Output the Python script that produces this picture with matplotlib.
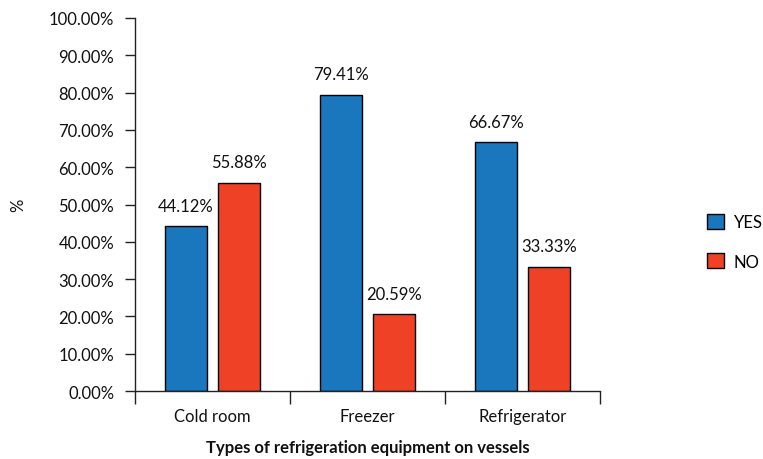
import matplotlib
matplotlib.use("Agg")
import matplotlib.pyplot as plt
import numpy as np
from matplotlib.ticker import FuncFormatter, FixedLocator, NullFormatter

plt.rcParams['font.family'] = ['Lato', 'DejaVu Sans']

categories = ["Cold room", "Freezer", "Refrigerator"]
yes_values = [44.12, 79.41, 66.67]
no_values = [55.88, 20.59, 33.33]
series_names = ["YES", "NO"]

blue = "#1a76bd"
red = "#ee4125"
ink = "#111111"
fs = 12

fig = plt.figure(figsize=(7.63, 4.60), dpi=100)
ax = fig.add_axes([0.1769, 0.1478, 0.6095, 0.8109])

x = np.arange(len(categories))
width = 0.275
offset = 0.172

b1 = ax.bar(x - offset, yes_values, width, color=blue, edgecolor="black", linewidth=1.0, label=series_names[0])
b2 = ax.bar(x + offset, no_values, width, color=red, edgecolor="black", linewidth=1.0, label=series_names[1])

for bars, vals in ((b1, yes_values), (b2, no_values)):
    for rect, v in zip(bars, vals):
        ax.annotate(f"{v:.2f}%", (rect.get_x() + rect.get_width() / 2, v),
                    xytext=(0, 9), textcoords="offset points",
                    ha="center", va="bottom", fontsize=fs, color=ink)

ax.set_xlim(-0.5, 2.5)
ax.set_ylim(0, 100)
ax.set_yticks(np.arange(0, 101, 10))
ax.yaxis.set_major_formatter(FuncFormatter(lambda v, p: f"{v:.2f}%"))

ax.set_xticks(x)
ax.set_xticklabels(categories, fontsize=fs, color=ink)
ax.tick_params(axis="x", which="major", length=0, pad=12)
ax.xaxis.set_minor_locator(FixedLocator([-0.5, 0.5, 1.5, 2.5]))
ax.xaxis.set_minor_formatter(NullFormatter())
ax.tick_params(axis="x", which="minor", length=9, width=1.0, color="#222222")
ax.tick_params(axis="y", length=7, width=1.0, color="#222222", labelsize=fs, labelcolor=ink, pad=8)

for s in ("top", "right"):
    ax.spines[s].set_visible(False)
for s in ("left", "bottom"):
    ax.spines[s].set_color("#222222")
    ax.spines[s].set_linewidth(1.0)

ax.set_ylabel("%", fontsize=fs, color=ink, labelpad=16)
ax.set_xlabel("Types of refrigeration equipment on vessels", fontsize=fs, fontweight="bold",
              color=ink, labelpad=11)

ax.legend(loc="center left", bbox_to_anchor=(1.23, 0.40), frameon=False, fontsize=fs,
          borderpad=0, borderaxespad=0,
          handlelength=1.0, handleheight=1.0, handletextpad=0.6, labelspacing=1.4)

fig.savefig("out.png", dpi=100)
